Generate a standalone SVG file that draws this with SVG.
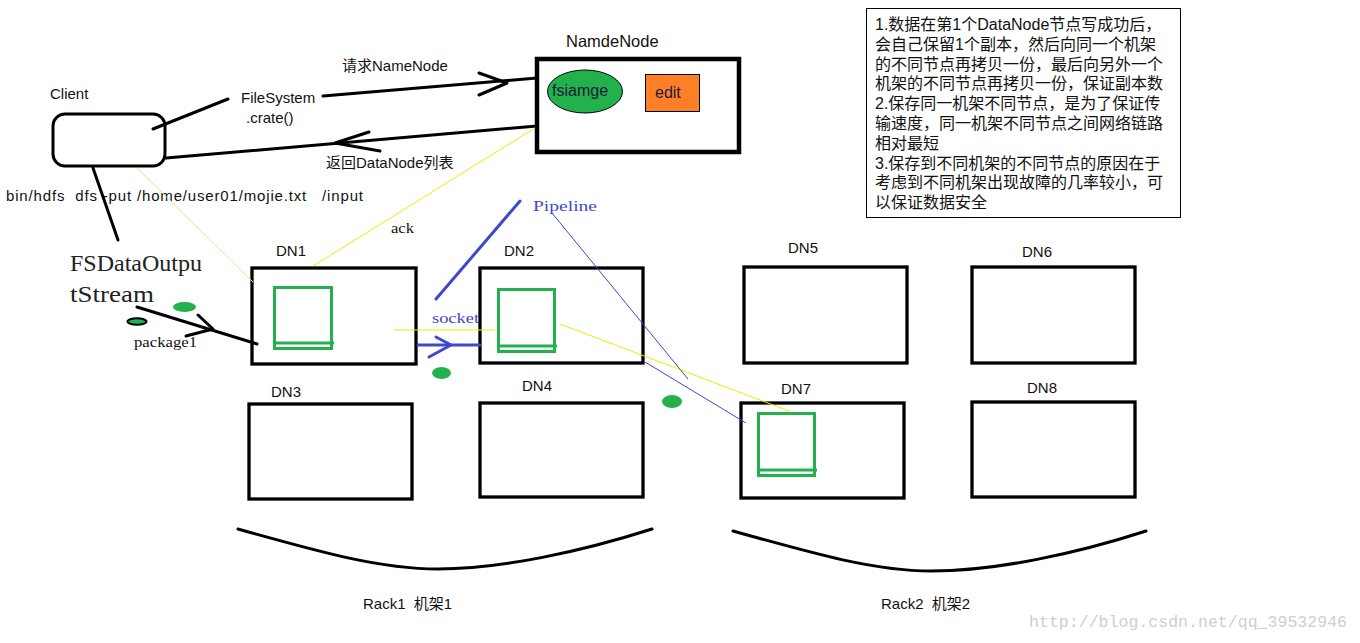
<svg xmlns="http://www.w3.org/2000/svg" width="1360" height="643" viewBox="0 0 1360 643">
<style>
.lbl{font-family:"Liberation Sans","Noto Sans CJK SC",sans-serif;font-size:15px;fill:#111;white-space:pre}
.mono{font-family:"Liberation Serif","Noto Sans CJK SC",serif;font-size:14px;fill:#111}
.note{font-family:"Liberation Sans","Noto Sans CJK SC",sans-serif;font-size:16px;fill:#111}
.dn{fill:#fff;stroke:#000;stroke-width:3.3}
.blk{fill:none;stroke:#000;stroke-width:3;stroke-linecap:round;stroke-linejoin:round}
.gr{fill:none;stroke:#22b14c;stroke-width:3}
.yl{stroke:#f4e800;stroke-width:1;fill:none}
.bl{fill:none;stroke:#3f48cc;stroke-width:3;stroke-linecap:round;stroke-linejoin:round}
.blt{stroke:#3f48cc;stroke-width:1;fill:none}
.dot{fill:#22b14c}
</style>
<rect width="1360" height="643" fill="#fff"/>

<g id="client">
<rect x="53" y="114" width="112" height="52" rx="12" fill="#fff" stroke="#000" stroke-width="3"/>
<text class="lbl" x="50" y="99">Client</text>
</g>

<g id="namenode">
<text class="lbl" x="566" y="47" style="font-size:16.5px">NamdeNode</text>
<rect x="537" y="59" width="202" height="93" fill="#fff" stroke="#000" stroke-width="4.5"/>
<ellipse cx="585" cy="91.5" rx="37.5" ry="21.5" fill="#22b14c" stroke="#000" stroke-width="1"/>
<text class="lbl" x="552" y="96" style="font-size:16px;fill:#1a1a40">fsiamge</text>
<rect x="645.5" y="74.5" width="54" height="37" fill="#ff7f27" stroke="#000" stroke-width="1"/>
<text class="lbl" x="655" y="98" style="font-size:16px;fill:#1a1a40">edit</text>
</g>

<g id="note">
<rect x="866.5" y="8.5" width="314" height="209" fill="#fff" stroke="#000" stroke-width="1"/>
<text class="note" x="875" y="30">1.数据在第1个DataNode节点写成功后，</text>
<text class="note" x="875" y="49.8">会自己保留1个副本，然后向同一个机架</text>
<text class="note" x="875" y="69.6">的不同节点再拷贝一份，最后向另外一个</text>
<text class="note" x="875" y="89.4">机架的不同节点再拷贝一份，保证副本数</text>
<text class="note" x="875" y="109.2">2.保存同一机架不同节点，是为了保证传</text>
<text class="note" x="875" y="129">输速度，同一机架不同节点之间网络链路</text>
<text class="note" x="875" y="148.8">相对最短</text>
<text class="note" x="875" y="168.6">3.保存到不同机架的不同节点的原因在于</text>
<text class="note" x="875" y="188.4">考虑到不同机架出现故障的几率较小，可</text>
<text class="note" x="875" y="208.2">以保证数据安全</text>
</g>

<g id="labels">
<text class="lbl" x="241" y="103">FileSystem</text>
<text class="lbl" x="246" y="123">.crate()</text>
<text class="lbl" x="342" y="71">请求NameNode</text>
<text class="lbl" x="326" y="168">返回DataNode列表</text>
<text class="lbl" x="6" y="201" xml:space="preserve" textLength="357" lengthAdjust="spacing">bin/hdfs  dfs -put /home/user01/mojie.txt   /input</text>
<text class="mono" x="391" y="233" textLength="23" lengthAdjust="spacingAndGlyphs">ack</text>
<text class="mono" x="533" y="211" style="fill:#3f48cc" textLength="64" lengthAdjust="spacingAndGlyphs">Pipeline</text>
<text class="mono" x="432" y="323" style="fill:#3f48cc" textLength="47" lengthAdjust="spacingAndGlyphs">socket</text>
<text class="mono" x="134" y="347" textLength="63" lengthAdjust="spacingAndGlyphs">package1</text>
</g>

<g id="fsdataoutputstream">
<text class="mono" x="70" y="271" style="font-size:23px;fill:#222" textLength="132" lengthAdjust="spacingAndGlyphs">FSDataOutpu</text>
<text class="mono" x="70" y="302" style="font-size:23px;fill:#222" textLength="84" lengthAdjust="spacingAndGlyphs">tStream</text>
</g>

<g id="dn1">
<text class="lbl" x="276" y="256">DN1</text>
<rect class="dn" x="252" y="268" width="164" height="96"/>
<rect class="gr" x="274.5" y="287.5" width="57" height="61"/>
<line class="gr" x1="273" y1="343" x2="334" y2="343"/>
</g>
<g id="dn2">
<text class="lbl" x="504" y="256">DN2</text>
<rect class="dn" x="480" y="268" width="163" height="95"/>
<rect class="gr" x="498.5" y="289.5" width="56" height="62"/>
<line class="gr" x1="497" y1="346" x2="557" y2="346"/>
</g>
<g id="dn3">
<text class="lbl" x="271" y="397">DN3</text>
<rect class="dn" x="249" y="404" width="163" height="95"/>
</g>
<g id="dn4">
<text class="lbl" x="522" y="391">DN4</text>
<rect class="dn" x="480" y="403" width="163" height="94"/>
</g>
<g id="dn5">
<text class="lbl" x="788" y="253">DN5</text>
<rect class="dn" x="744" y="267" width="163" height="96"/>
</g>
<g id="dn6">
<text class="lbl" x="1022" y="257">DN6</text>
<rect class="dn" x="972" y="267" width="163" height="96"/>
</g>
<g id="dn7">
<text class="lbl" x="781" y="394">DN7</text>
<rect class="dn" x="741" y="403" width="163" height="95"/>
<rect class="gr" x="758.5" y="413.5" width="56" height="62"/>
<line class="gr" x1="757" y1="470" x2="817" y2="470"/>
</g>
<g id="dn8">
<text class="lbl" x="1027" y="393">DN8</text>
<rect class="dn" x="972" y="402" width="163" height="95"/>
</g>

<g id="connectors">
<line class="blk" x1="153" y1="129" x2="228" y2="99"/>
<line class="blk" x1="323" y1="96" x2="537" y2="78"/>
<polyline class="blk" points="479,73 507,83 479,95"/>
<line class="blk" x1="537" y1="126" x2="166" y2="158"/>
<polyline class="blk" points="369,132 335,143 380,151"/>
<line class="blk" x1="93" y1="168" x2="118" y2="240"/>
<line class="blk" x1="137" y1="307" x2="257" y2="344"/>
<polyline class="blk" points="198,315 213,329 186,336"/>
<line class="yl" x1="137" y1="168" x2="253" y2="282" style="stroke:#e6e08a"/>
<line class="yl" x1="535" y1="128" x2="313" y2="266"/>
<line class="yl" x1="394" y1="330" x2="495" y2="330"/>
<line class="yl" x1="560" y1="324" x2="789" y2="411"/>
<line class="bl" x1="520" y1="201" x2="436" y2="299"/>
<line class="bl" x1="418" y1="345" x2="480" y2="345"/>
<polyline class="bl" points="436,337 451,345 429,357"/>
<line class="blt" x1="552" y1="213" x2="688" y2="379"/>
<line class="blt" x1="645" y1="362" x2="746" y2="423"/>
</g>

<g id="packets">
<ellipse class="dot" cx="184.5" cy="307" rx="11.5" ry="5"/>
<ellipse cx="137" cy="321.5" rx="9.5" ry="3.2" fill="#22b14c" stroke="#000" stroke-width="2"/>
<ellipse class="dot" cx="441.5" cy="373" rx="9.5" ry="6"/>
<ellipse class="dot" cx="672" cy="401.5" rx="10" ry="6.5"/>
</g>

<g id="rack1">
<path class="blk" d="M238,529 C320,552 380,569 438,569 C500,569 580,552 652,529"/>
<text class="lbl" x="363" y="609" xml:space="preserve">Rack1  机架1</text>
</g>
<g id="rack2">
<path class="blk" d="M733,531 C815,554 875,571 931,571 C995,571 1075,554 1146,531"/>
<text class="lbl" x="881" y="609" xml:space="preserve">Rack2  机架2</text>
</g>

<text id="watermark" x="1029" y="627" style="font-family:'Liberation Mono',monospace;font-size:16px;fill:#d0d0c8" textLength="318" lengthAdjust="spacingAndGlyphs">http://blog.csdn.net/qq_39532946</text>
</svg>
